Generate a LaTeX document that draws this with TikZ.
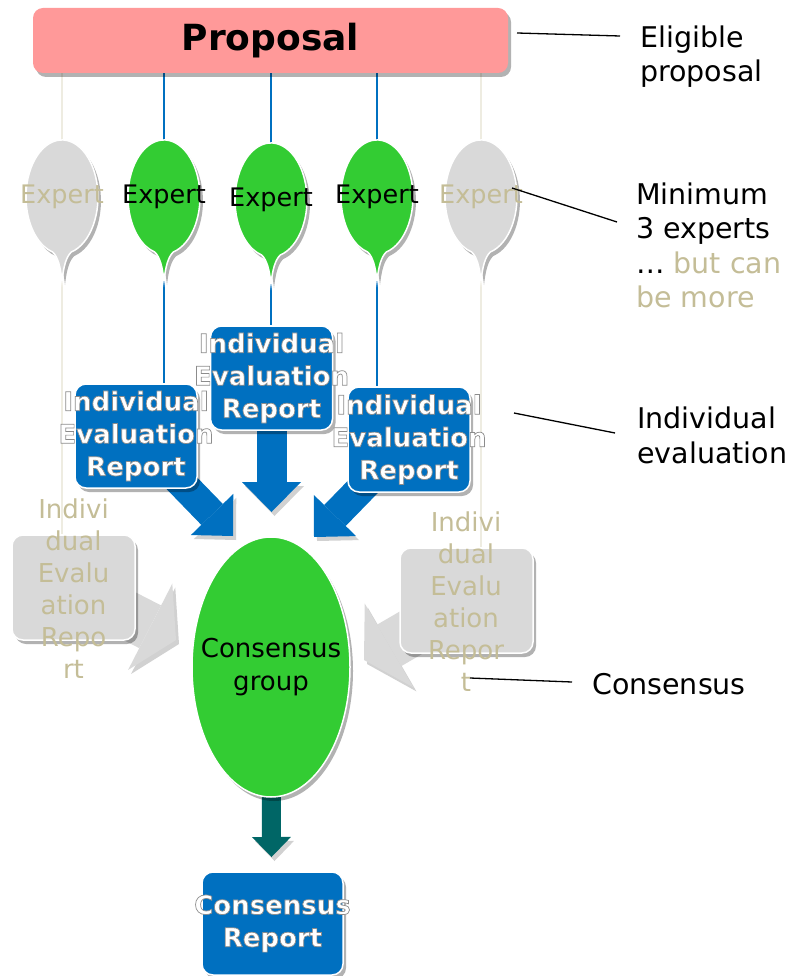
\documentclass[tikz,border=0pt]{standalone}
\usepackage{fontspec}
\setmainfont{DejaVu Sans}
\usetikzlibrary{shapes.geometric,shadows,arrows.meta}

\definecolor{propred}{HTML}{FF9999}
\definecolor{expgreen}{HTML}{33CC33}
\definecolor{repblue}{HTML}{0070C0}
\definecolor{optgrey}{HTML}{D9D9D9}
\definecolor{optkhaki}{HTML}{C4BD97}
\definecolor{optline}{HTML}{EEECE1}
\definecolor{conteal}{HTML}{006666}

% grey rim round the white report texts
\newcommand\rimon{\special{pdf:literal direct 2 Tr 0.7 w 0.55 G}}
\newcommand\rimoff{\special{pdf:literal direct 0 Tr}}

\pgfdeclarelayer{bg}
\pgfsetlayers{bg,main}

\tikzset{
  softshadow/.style={drop shadow={shadow xshift=3pt, shadow yshift=-4pt, opacity=0.3, fill=black}},
  propbox/.style={rectangle, rounded corners=10pt, fill=propred, minimum width=475pt, minimum height=65pt,
    inner sep=0pt, font=\fontsize{36pt}{40pt}\selectfont\bfseries, softshadow},
  repbox/.style={rectangle, rounded corners=11pt, draw=white, line width=1.5pt, fill=repblue,
    minimum width=122pt, minimum height=104pt, inner sep=0pt, softshadow},
  optbox/.style={repbox, fill=optgrey, minimum width=123pt, minimum height=105pt},
  reptext/.style={text=white, align=center, inner sep=0pt, font=\fontsize{26pt}{32.5pt}\selectfont\bfseries},
  opttext/.style={text=optkhaki, align=center, inner sep=0pt, font=\fontsize{26pt}{32pt}\selectfont},
  consnode/.style={ellipse, fill=expgreen, draw=white, line width=1.5pt, minimum width=158pt,
    minimum height=260pt, inner sep=0pt, softshadow},
  constext/.style={align=center, inner sep=0pt, font=\fontsize{26pt}{33pt}\selectfont},
  sidetext/.style={anchor=west, align=left, inner sep=0pt, font=\fontsize{28.5pt}{34.5pt}\selectfont},
  leader/.style={black, line width=1.3pt},
  link/.style={repblue, line width=1.5pt},
  optlink/.style={optline, line width=1.5pt},
  arrowshade/.style={preaction={draw=black!18, transform canvas={shift={(3pt,-4pt)}}}},
  bluearrow/.style={repblue, line width=30pt, -{Triangle[length=30pt, width=59pt, line width=0pt]}, arrowshade},
  optarrow/.style={optgrey, line width=48pt, -{Triangle[length=29pt, width=97pt, line width=0pt]}, arrowshade},
  tealarrow/.style={conteal, line width=19pt, -{Triangle[length=20pt, width=39pt, line width=0pt]}, arrowshade},
}

\begin{document}
\begin{tikzpicture}[x=1pt,y=-1pt]
\useasboundingbox (0,0) rectangle (789,976);

% proposal
\node[propbox] (prop) at (270.5,40.5) {Proposal};

% experts
\foreach \i/\x/\y/\col/\txt in {1/62/197/optgrey/optkhaki, 2/164/197/expgreen/black,
    3/271/200/expgreen/black, 4/377/197/expgreen/black, 5/481/197/optgrey/optkhaki}{
  \draw[white, line width=1.5pt, fill=\col, softshadow]
    (\x,\y+84) .. controls (\x+1.5,\y+70) and (\x+4,\y+60) .. (\x+9.3,\y+55)
    arc[start angle=75, end angle=-255, x radius=36, y radius=57]
    .. controls (\x-4,\y+60) and (\x-1.5,\y+70) .. cycle;
  \node[font=\fontsize{25.5pt}{30pt}\selectfont, text=\txt, inner sep=0pt] (ex\i) at (\x,\y) {Expert};
  \coordinate (top\i) at (\x,\y-57);
  \coordinate (tip\i) at (\x,\y+84);
}

% individual evaluation reports
\node[repbox] (ier1) at (136,436) {};
\node[repbox] (ier2) at (271.5,378) {};
\node[repbox, minimum height=105pt] (ier3) at (409,439.5) {};
\foreach \b in {ier1,ier2,ier3}
  \node[reptext] at (\b) {\rimon Individual\\Evaluation\\Report\rimoff};

% extra reports
\node[optbox] (optL) at (73.5,587.5) {};
\node[optbox, minimum width=133pt] (optR) at (466.5,600.5) {};
\node[opttext] at (73.5,589) {Indivi\\dual\\Evalu\\ation\\Repo\\rt};
\node[opttext] at (466,602) {Indivi\\dual\\Evalu\\ation\\Repor\\t};

% consensus
\node[consnode] (cons) at (271,667) {};
\node[constext] at (cons) {Consensus\\group};
\node[repbox, minimum width=141pt, minimum height=103pt] (crep) at (272.5,923.5) {};
\node[reptext] at (crep) {\rimon Consensus\\Report\rimoff};

\coordinate (hitL) at (233,536);
\coordinate (hitM) at (271.5,512);
\coordinate (hitR) at (314,537);
\coordinate (hitGL) at (176,640);
\coordinate (hitGR) at (364,660);
\coordinate (hitC) at (271.5,857);

\begin{pgfonlayer}{bg}
\draw[optlink] (prop.south -| top1) -- (top1);
\draw[link] (prop.south -| top2) -- (top2);
\draw[link] (prop.south -| top3) -- (top3);
\draw[link] (prop.south -| top4) -- (top4);
\draw[optlink] (prop.south -| top5) -- (top5);
\draw[optlink] (tip1) -- (tip1 |- optL.north);
\draw[link] (tip2) -- (tip2 |- ier1.north);
\draw[link] (tip3) -- (tip3 |- ier2.north);
\draw[link] (tip4) -- (tip4 |- ier3.north);
\draw[optlink] (tip5) -- (tip5 |- optR.north);

\draw[optarrow] (optL.center) -- (hitGL);
\draw[optarrow] (optR.center) -- (hitGR);
\draw[bluearrow] (ier1.center) -- (hitL);
\draw[bluearrow] (ier2.center) -- (hitM);
\draw[bluearrow] (ier3.center) -- (hitR);
\draw[tealarrow] (cons.center) -- (hitC);
\end{pgfonlayer}

% notes on the right
\node[sidetext] (noteprop) at (640,56.5) {Eligible\\proposal};
\node[sidetext] (noteexp) at (636,245.5) {Minimum\\3 experts\\… {\color{optkhaki}but can}\\{\color{optkhaki}be more}};
\node[sidetext] (noteeval) at (637,435.5) {Individual\\evaluation};
\node[sidetext] (notecons) at (592,684) {Consensus};

\coordinate (l1a) at (517,33);  \coordinate (l1b) at (620,36);
\coordinate (l2a) at (512,188); \coordinate (l2b) at (617,222);
\coordinate (l3a) at (514,413); \coordinate (l3b) at (615,433);
\coordinate (l4a) at (470,678); \coordinate (l4b) at (572,682);
\draw[leader] (l1a) -- (l1b);
\draw[leader] (l2a) -- (l2b);
\draw[leader] (l3a) -- (l3b);
\draw[leader] (l4a) -- (l4b);
\end{tikzpicture}
\end{document}
